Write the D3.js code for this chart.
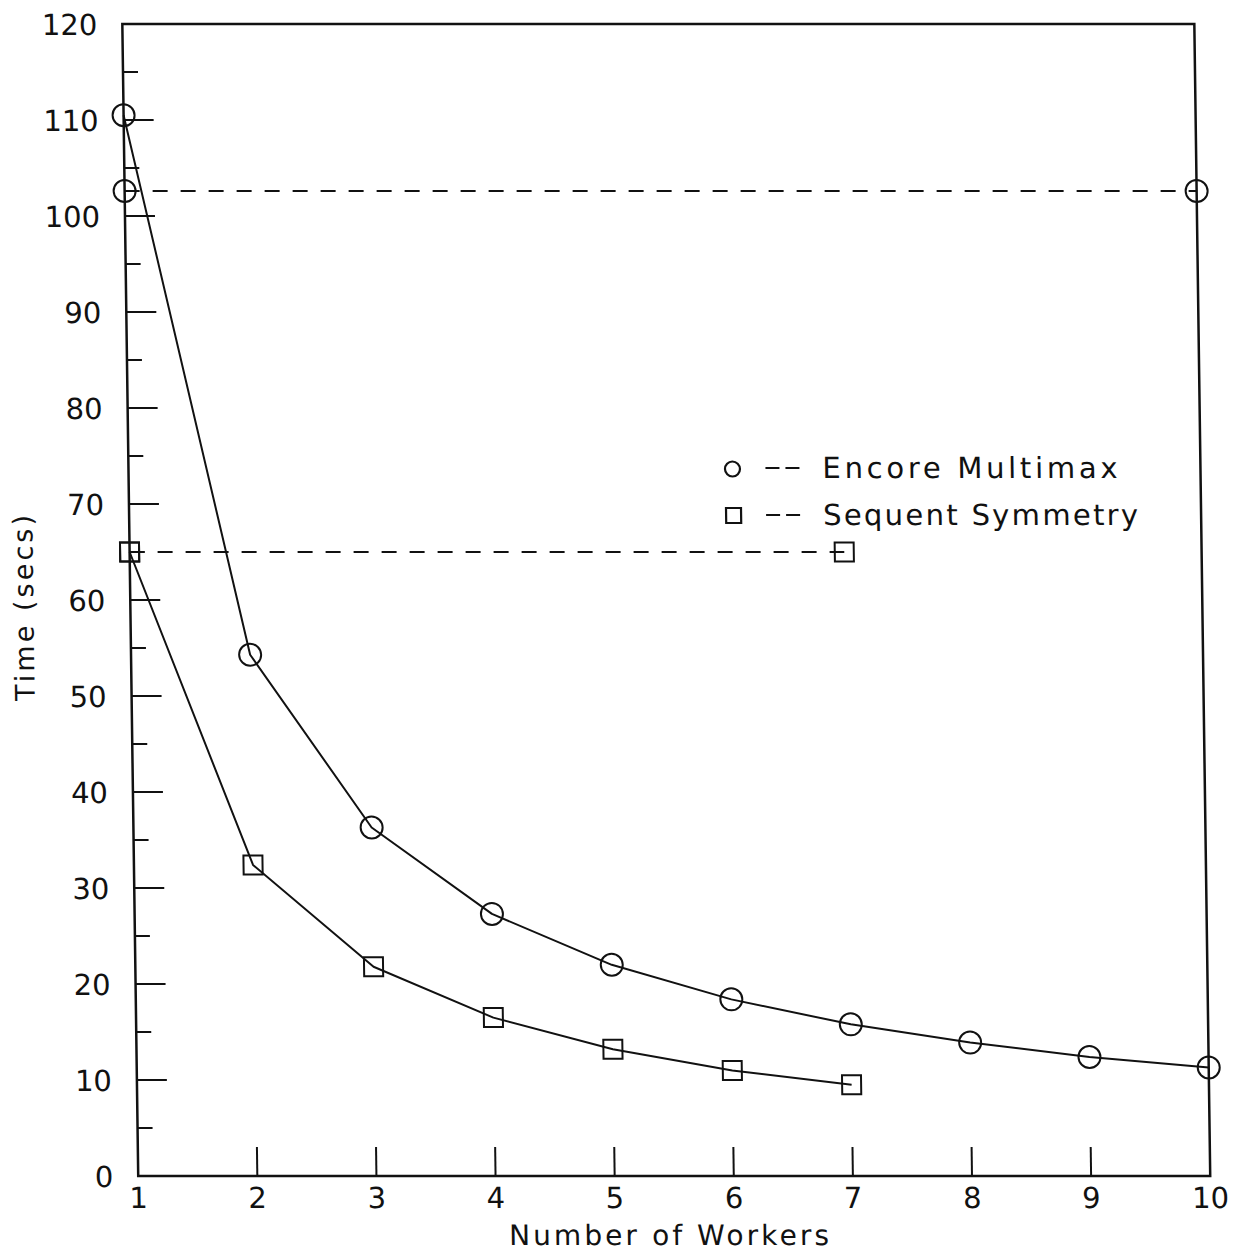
<!DOCTYPE html>
<html>
<head>
<meta charset="utf-8">
<script src="https://cdn.jsdelivr.net/npm/d3@7"></script>
<style>
  body { margin: 0; background: #fff; }
  svg text { font-family: "DejaVu Sans", sans-serif; fill: #111; }
</style>
</head>
<body>
<div id="chart"></div>
<script>
// data
const workers = [1, 2, 3, 4, 5, 6, 7, 8, 9, 10];
const encoreTimes = [110.5, 54.3, 36.3, 27.3, 22.0, 18.4, 15.8, 13.9, 12.4, 11.3];
const sequentWorkers = [1, 2, 3, 4, 5, 6, 7];
const sequentTimes = [65.0, 32.4, 21.8, 16.5, 13.2, 11.0, 9.5];
const encoreSequential = 102.6; // dashed line, 1 -> 10 workers
const sequentSequential = 65.0; // dashed line, 1 -> 7 workers
const yTicks = [0, 10, 20, 30, 40, 50, 60, 70, 80, 90, 100, 110, 120];
const yMinorTicks = [5, 15, 25, 35, 45, 55, 65, 75, 85, 95, 105, 115];
const legendLabels = ['Encore Multimax', 'Sequent Symmetry'];

const width = 1234, height = 1255;
const plotLeft = 122, plotRight = 1194, plotTop = 24, plotBottom = 1176;

const svg = d3.select('#chart').append('svg')
  .attr('width', width)
  .attr('height', height);

// the scan is slightly sheared, mimic it
const g = svg.append('g').attr('transform', 'skewX(0.79)');

const x = d3.scaleLinear().domain([1, 10]).range([plotLeft, plotRight]);
const y = d3.scaleLinear().domain([0, 120]).range([plotBottom, plotTop]);

// frame
g.append('rect')
  .attr('x', plotLeft).attr('y', plotTop)
  .attr('width', plotRight - plotLeft).attr('height', plotBottom - plotTop)
  .attr('fill', 'none').attr('stroke', '#111').attr('stroke-width', 2.5);

// y ticks (drawn inward)
g.selectAll('.ytick').data(yTicks.filter(d => d > 0 && d < 120)).enter()
  .append('line')
  .attr('x1', plotLeft).attr('x2', plotLeft + 30)
  .attr('y1', d => y(d)).attr('y2', d => y(d))
  .attr('stroke', '#111').attr('stroke-width', 2);

g.selectAll('.yminor').data(yMinorTicks).enter()
  .append('line')
  .attr('x1', plotLeft).attr('x2', plotLeft + 15)
  .attr('y1', d => y(d)).attr('y2', d => y(d))
  .attr('stroke', '#111').attr('stroke-width', 2);

g.selectAll('.ylabel').data(yTicks).enter()
  .append('text')
  .attr('x', plotLeft - 25)
  .attr('y', d => y(d) + 11)
  .attr('text-anchor', 'end')
  .style('font-size', '29px')
  .text(d => d);

// x ticks (upward from bottom)
g.selectAll('.xtick').data(workers.filter(d => d > 1 && d < 10)).enter()
  .append('line')
  .attr('x1', d => x(d)).attr('x2', d => x(d))
  .attr('y1', plotBottom).attr('y2', plotBottom - 29)
  .attr('stroke', '#111').attr('stroke-width', 2);

g.selectAll('.xlabel').data(workers).enter()
  .append('text')
  .attr('x', d => x(d))
  .attr('y', plotBottom + 32)
  .attr('text-anchor', 'middle')
  .style('font-size', '29px')
  .text(d => d);

// axis titles
g.append('text')
  .attr('x', 652).attr('y', 1245)
  .attr('text-anchor', 'middle')
  .attr('textLength', 320).attr('lengthAdjust', 'spacing')
  .style('font-size', '28px')
  .text('Number of Workers');

g.append('text')
  .attr('transform', 'translate(25,608) rotate(-90)')
  .attr('text-anchor', 'middle')
  .attr('textLength', 186).attr('lengthAdjust', 'spacing')
  .style('font-size', '27px')
  .text('Time (secs)');

// sequential reference lines
const dashed = [
  { x1: 1, x2: 10, v: encoreSequential, shape: 'circle' },
  { x1: 1, x2: 7, v: sequentSequential, shape: 'square' }
];
g.selectAll('.ref').data(dashed).enter()
  .append('line')
  .attr('x1', d => x(d.x1)).attr('x2', d => x(d.x2))
  .attr('y1', d => y(d.v)).attr('y2', d => y(d.v))
  .attr('stroke', '#111').attr('stroke-width', 2)
  .attr('stroke-dasharray', '15,13');

// curves
const line = d3.line()
  .x(d => x(d[0]))
  .y(d => y(d[1]));

const encorePts = workers.map((w, i) => [w, encoreTimes[i]]);
const sequentPts = sequentWorkers.map((w, i) => [w, sequentTimes[i]]);

g.append('path').attr('d', line(encorePts))
  .attr('fill', 'none').attr('stroke', '#111').attr('stroke-width', 2)
  .attr('stroke-linejoin', 'round');
g.append('path').attr('d', line(sequentPts))
  .attr('fill', 'none').attr('stroke', '#111').attr('stroke-width', 2)
  .attr('stroke-linejoin', 'round');

// markers
const circlePts = encorePts.concat(dashed.filter(d => d.shape === 'circle')
  .flatMap(d => [[d.x1, d.v], [d.x2, d.v]]));
const squarePts = sequentPts.concat(dashed.filter(d => d.shape === 'square')
  .flatMap(d => [[d.x1, d.v], [d.x2, d.v]]));

g.selectAll('.cmark').data(circlePts).enter()
  .append('circle')
  .attr('cx', d => x(d[0])).attr('cy', d => y(d[1]))
  .attr('r', 11)
  .attr('fill', 'none').attr('stroke', '#111').attr('stroke-width', 2);

const sq = 19;
g.selectAll('.smark').data(squarePts).enter()
  .append('rect')
  .attr('x', d => x(d[0]) - sq / 2).attr('y', d => y(d[1]) - sq / 2)
  .attr('width', sq).attr('height', sq)
  .attr('fill', 'none').attr('stroke', '#111').attr('stroke-width', 2);

// legend
const legend = g.append('g').attr('transform', 'translate(726,467)');
legend.append('circle')
  .attr('cx', 0).attr('cy', 2).attr('r', 7.5)
  .attr('fill', 'none').attr('stroke', '#111').attr('stroke-width', 2.2);
legend.append('rect')
  .attr('x', -7).attr('y', 41).attr('width', 15).attr('height', 15)
  .attr('fill', 'none').attr('stroke', '#111').attr('stroke-width', 2.2);

const rows = legend.selectAll('.row').data(legendLabels).enter()
  .append('g')
  .attr('transform', (d, i) => `translate(0,${11 + i * 47})`);
rows.append('line')
  .attr('x1', 33).attr('x2', 67)
  .attr('y1', -10).attr('y2', -10)
  .attr('stroke', '#111').attr('stroke-width', 2.2)
  .attr('stroke-dasharray', '14,6');
rows.append('text')
  .attr('x', 90)
  .attr('textLength', (d, i) => i === 0 ? 295 : 315)
  .attr('lengthAdjust', 'spacing')
  .style('font-size', '29px')
  .text(d => d);
</script>
</body>
</html>
